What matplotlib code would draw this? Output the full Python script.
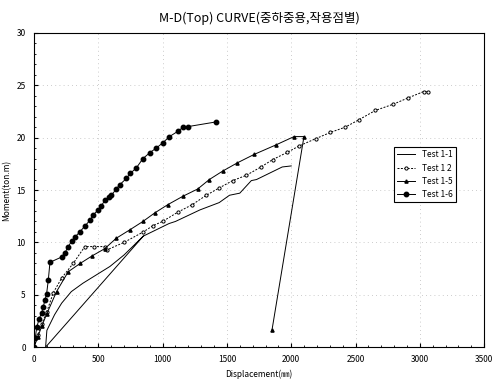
import matplotlib
matplotlib.use("Agg")
import matplotlib.pyplot as plt
from matplotlib.ticker import MultipleLocator

plt.rcParams['font.family'] = ['Noto Sans CJK KR', 'DejaVu Sans']

# Test 1-1 (starts at the top of its straight initial line, then back along the curve)
x11 = [850, 90, 100, 160, 215, 290, 380, 485, 590, 700, 850, 950, 1050, 1100, 1290,
       1440, 1520, 1600, 1690, 1730, 1930, 2000]
m11 = [10.6, 0, 1.6, 3.1, 4.2, 5.3, 6.1, 6.9, 7.7, 8.8, 10.6, 11.2, 11.8, 12.0, 13.1,
       13.8, 14.5, 14.7, 15.9, 16.0, 17.2, 17.3]

x12 = [0, 30, 60, 100, 150, 215, 305, 395, 470, 550, 570, 700, 850, 925, 1000, 1120,
       1230, 1340, 1440, 1545, 1650, 1765, 1855, 1970, 2060, 2190, 2305, 2420, 2525,
       2655, 2795, 2910, 3030, 3060]
m12 = [0, 1.2, 2.2, 3.4, 5.2, 6.6, 8.0, 9.6, 9.6, 9.6, 9.3, 10.0, 11.0, 11.6, 12.0, 12.9,
       13.6, 14.5, 15.2, 15.9, 16.4, 17.2, 17.9, 18.6, 19.2, 19.9, 20.5, 21.0, 21.7,
       22.6, 23.2, 23.8, 24.4, 24.4]

x15 = [0, 30, 60, 100, 175, 266, 360, 450, 550, 640, 745, 847, 937, 1040, 1157, 1273,
       1363, 1466, 1582, 1712, 1880, 2022, 2099, 1850]
m15 = [0, 1.0, 2.0, 3.2, 5.3, 7.2, 8.0, 8.7, 9.4, 10.4, 11.2, 12.0, 12.8, 13.6, 14.4, 15.1,
       16.0, 16.8, 17.6, 18.4, 19.3, 20.1, 20.1, 1.6]

x16 = [0, 10, 21, 40, 60, 72, 85, 98, 111, 124, 214, 240, 266, 292, 318, 356, 395, 434,
       460, 498, 524, 550, 580, 602, 640, 666, 718, 750, 795, 847, 899, 950, 1001, 1053,
       1118, 1160, 1195, 1415]
m16 = [0, 0.9, 1.9, 2.7, 3.3, 3.85, 4.5, 5.1, 6.4, 8.1, 8.6, 9.0, 9.6, 10.1, 10.5, 11.0,
       11.55, 12.1, 12.6, 13.1, 13.5, 14.0, 14.3, 14.5, 15.1, 15.5, 16.1, 16.6, 17.1, 18.0,
       18.55, 19.0, 19.5, 20.1, 20.6, 21.0, 21.05, 21.5]

fig = plt.figure(figsize=(4.93, 3.87), dpi=100)
ax = fig.add_axes([0.069, 0.103, 0.913, 0.812])

ax.plot(x11, m11, color='black', lw=0.7, label='Test 1-1')
ax.plot(x12, m12, color='black', lw=0.7, ls=(0, (2, 1.5)), marker='o', ms=2.3,
        mfc='white', mec='black', mew=0.7, label='Test 1 2')
ax.plot(x15, m15, color='black', lw=0.7, marker='^', ms=2.3, label='Test 1-5')
ax.plot(x16, m16, color='black', lw=0.7, marker='o', ms=3.2, label='Test 1-6')

ax.set_xlim(0, 3500)
ax.set_ylim(0, 30)
ax.xaxis.set_major_locator(MultipleLocator(500))
ax.xaxis.set_minor_locator(MultipleLocator(100))
ax.yaxis.set_major_locator(MultipleLocator(5))
ax.yaxis.set_minor_locator(MultipleLocator(1))
ax.tick_params(which='both', direction='in', labelsize=6, pad=6)
ax.tick_params(which='major', length=3)
ax.tick_params(which='minor', length=1.5)
ax.grid(True, which='major', ls=(0, (1, 4)), lw=0.6, color='#bbbbbb')
for s in ax.spines.values():
    s.set_linewidth(0.8)

ax.set_title('M-D(Top) CURVE(중하중용,작용점별)', fontsize=9, pad=8)
ax.set_xlabel('Displacement(㎜)', fontsize=6)
ax.set_ylabel('Moment(ton.m)', fontsize=6)

leg = ax.legend(loc='upper left', bbox_to_anchor=(0.79, 0.65), fontsize=6,
                fancybox=False, edgecolor='black', framealpha=1,
                handlelength=2.2, borderpad=0.4, labelspacing=0.5)
leg.get_frame().set_linewidth(0.8)

fig.savefig('out.png', dpi=100)
